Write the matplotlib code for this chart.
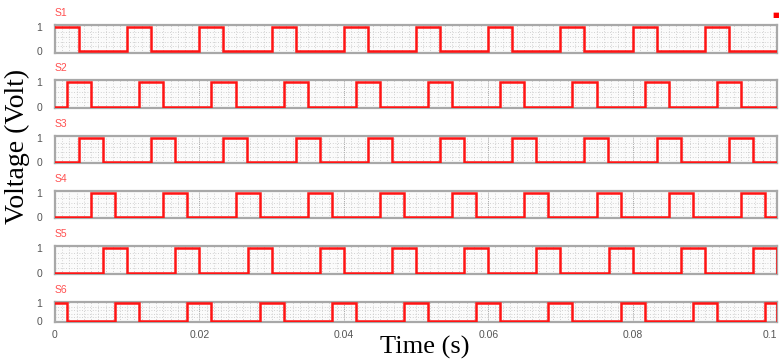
import matplotlib
matplotlib.use("Agg")
import matplotlib.pyplot as plt
import numpy as np

# gate signals S1..S6, rising-edge times in ms, common pulse width
names = ["S1", "S2", "S3", "S4", "S5", "S6"]
rise_ms = [
    [0, 10, 20, 30, 40, 50, 60, 70, 80, 90],
    [1.67, 11.67, 21.67, 31.67, 41.67, 51.67, 61.67, 71.67, 81.67, 91.67],
    [3.33, 13.33, 23.33, 33.33, 43.33, 53.33, 63.33, 73.33, 83.33, 93.33],
    [5, 15, 25, 35, 45, 55, 65, 75, 85, 95],
    [6.67, 16.67, 26.67, 36.67, 46.67, 56.67, 66.67, 76.67, 86.67, 96.67],
    [-1.67, 8.33, 18.33, 28.33, 38.33, 48.33, 58.33, 68.33, 78.33, 88.33, 98.33],
]
width_ms = 3.33
t_end = 0.1
xticks = [0, 0.02, 0.04, 0.06, 0.08, 0.1]
xticklabels = ["0", "0.02", "0.04", "0.06", "0.08", "0.1"]

# panel boxes in pixels (top, bottom)
W, H = 781, 361
boxes = [(25, 52.7), (80, 108), (135.7, 163), (191, 218), (246, 274), (301.7, 321.7)]
left_px, right_px = 55, 777

RED = "#ff1414"
GRID = "#c4c4c4"


def wave(rises):
    t = [0.0]
    v = [0]
    for r in rises:
        a = max(r / 1000.0, 0.0)
        b = min((r + width_ms) / 1000.0, t_end)
        if b <= 0:
            continue
        if a == 0.0:
            v[0] = 1
        else:
            t += [a, a]
            v += [0, 1]
        t += [b, b]
        v += [1, 0]
    t.append(t_end)
    v.append(v[-1])
    return t, v


fig = plt.figure(figsize=(W / 100, H / 100), dpi=100)

for i, (name, rises) in enumerate(zip(names, rise_ms)):
    top, bot = boxes[i]
    ax = fig.add_axes([left_px / W, 1 - bot / H, (right_px - left_px) / W, (bot - top) / H])
    t, v = wave(rises)
    ax.plot(t, v, color=RED, lw=1.8, zorder=3, solid_joinstyle="miter")
    ax.set_xlim(0, t_end)
    ax.set_ylim(-0.06, 1.1)
    for x in np.arange(0.001, t_end, 0.001):
        ax.axvline(x, color=GRID, lw=0.6, ls=(0, (1, 2.2)), zorder=1)
    for x in xticks[1:-1]:
        ax.axvline(x, color="#999999", lw=0.6, ls=(0, (1, 1.5)), zorder=1)
    for y in [0.2, 0.4, 0.6, 0.8]:
        ax.axhline(y, color=GRID, lw=0.6, ls=(0, (1, 2.2)), zorder=1)
    ax.set_facecolor("#fbfbfb")
    for s in ax.spines.values():
        s.set_color("#a8a8a8")
        s.set_linewidth(1.6)
    ax.set_yticks([0, 1])
    ax.set_yticklabels(["0", "1"])
    ax.tick_params(axis="y", length=0, pad=9, labelsize=7.5, labelcolor="#555555")
    if i == len(names) - 1:
        ax.set_xticks(xticks)
        ax.set_xticklabels(xticklabels)
        ax.tick_params(axis="x", length=0, pad=6, labelsize=7.5, labelcolor="#555555")
        ax.get_xticklabels()[-1].set_horizontalalignment("right")
    else:
        ax.set_xticks([])
    ax.annotate(name, xy=(0, 1), xycoords="axes fraction", xytext=(0, 5),
                textcoords="offset points", ha="left", va="bottom",
                color="#ff5050", fontsize=7.5, fontfamily="Liberation Sans")
    for lab in ax.get_yticklabels() + ax.get_xticklabels():
        lab.set_fontfamily("Liberation Sans")

fig.text(17 / W, 1 - 146 / H, "Voltage (Volt)", rotation=90, ha="center", va="center",
         fontsize=20, fontfamily="Liberation Serif")
fig.text(425 / W, 1 - 347 / H, "Time (s)", ha="center", va="center",
         fontsize=19, fontfamily="Liberation Serif")
fig.text(776 / W, 1 - 15.5 / H, "\u25a0", ha="center", va="center", color="#ff0000", fontsize=5)

fig.savefig("out.png", dpi=100)
